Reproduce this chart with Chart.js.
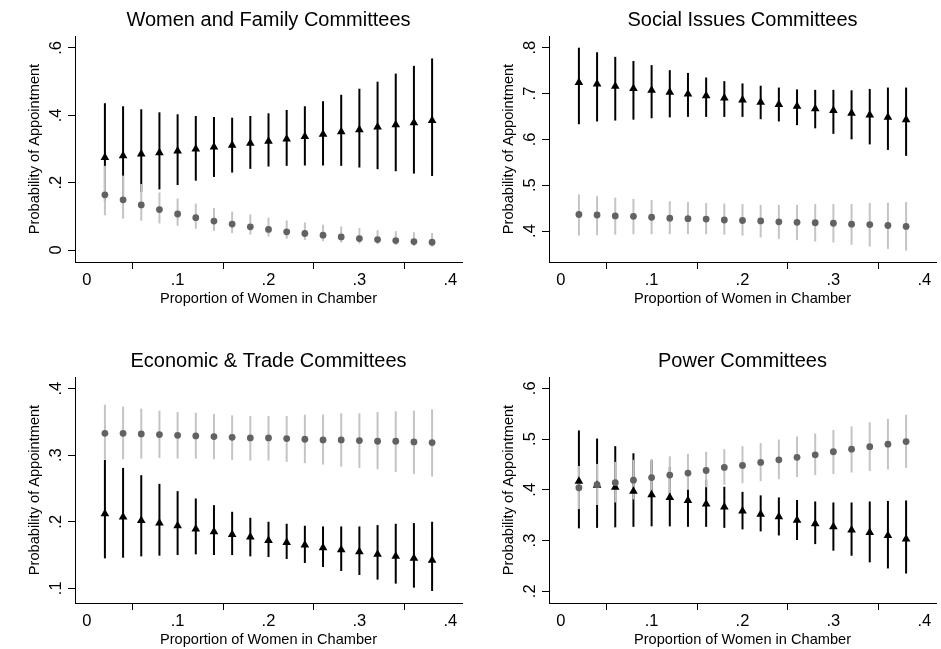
<!DOCTYPE html>
<html>
<head>
<meta charset="utf-8">
<title>Probability of committee appointment</title>
<script src="https://cdn.jsdelivr.net/npm/chart.js@4.4.1/dist/chart.umd.min.js"></script>
<style>
  html, body { margin: 0; padding: 0; background: #fff; overflow: hidden; }
  body { width: 941px; height: 649px; position: relative; }
  canvas { position: absolute; }
</style>
</head>
<body>
<canvas id="womenFamily" width="467" height="341" style="left:0;top:0"></canvas>
<canvas id="socialIssues" width="467" height="341" style="left:474px;top:0"></canvas>
<canvas id="economicTrade" width="467" height="341" style="left:0;top:341px"></canvas>
<canvas id="power" width="467" height="341" style="left:474px;top:341px"></canvas>
<script>
// proportion of women in the chamber (x) shared by all four panels
const proportion = [0.02, 0.04, 0.06, 0.08, 0.10, 0.12, 0.14, 0.16, 0.18, 0.20,
  0.22, 0.24, 0.26, 0.28, 0.30, 0.32, 0.34, 0.36, 0.38];
const xTickValues = [0, 0.1, 0.2, 0.3, 0.4];
const xTickLabels = ['0', '.1', '.2', '.3', '.4'];

// Women and Family Committees
const womenFamTri = [.275, .280, .285, .289, .294, .300, .306, .311, .317, .323, .330, .337, .344, .351, .357, .365, .372, .378, .385];
const womenFamTriLo = [.145, .160, .172, .180, .193, .206, .217, .230, .241, .248, .250, .251, .251, .250, .245, .240, .234, .227, .220];
const womenFamTriHi = [.436, .427, .418, .409, .403, .398, .395, .393, .398, .406, .416, .427, .442, .461, .479, .500, .524, .547, .569];
const womenFamCirc = [.164, .149, .134, .120, .107, .096, .086, .077, .069, .061, .054, .049, .044, .039, .034, .031, .028, .025, .023];
const womenFamCircLo = [.103, .093, .087, .079, .072, .063, .057, .050, .046, .040, .034, .030, .026, .022, .019, .017, .015, .012, .010];
const womenFamCircHi = [.250, .221, .196, .171, .153, .138, .125, .114, .106, .096, .088, .082, .075, .070, .065, .059, .056, .053, .051];
const womenFamYTicks = [0, 0.2, 0.4, 0.6];
const womenFamYLabels = ['0', '.2', '.4', '.6'];

// Social Issues Committees
const socialTri = [.724, .721, .716, .711, .707, .703, .699, .695, .690, .686, .681, .676, .672, .667, .663, .657, .653, .648, .643];
const socialTriLo = [.633, .639, .641, .643, .646, .648, .649, .649, .649, .649, .644, .639, .631, .624, .612, .600, .589, .577, .564];
const socialTriHi = [.800, .790, .780, .771, .762, .751, .745, .735, .727, .722, .717, .713, .709, .708, .708, .707, .710, .713, .713];
const socialCirc = [.436, .435, .433, .432, .430, .428, .427, .426, .424, .423, .422, .420, .419, .418, .417, .415, .414, .412, .410];
const socialCircLo = [.390, .391, .392, .393, .393, .393, .393, .393, .392, .390, .386, .383, .380, .377, .375, .370, .366, .361, .357];
const socialCircHi = [.480, .476, .473, .470, .468, .465, .463, .461, .460, .459, .457, .457, .457, .459, .459, .459, .461, .462, .463];
const socialYTicks = [0.4, 0.5, 0.6, 0.7, 0.8];
const socialYLabels = ['.4', '.5', '.6', '.7', '.8'];

// Economic & Trade Committees
const econTri = [.212, .207, .202, .198, .194, .189, .185, .181, .177, .172, .169, .165, .161, .158, .155, .151, .148, .145, .142];
const econTriLo = [.145, .146, .148, .149, .150, .151, .150, .150, .148, .147, .144, .138, .132, .126, .120, .113, .107, .101, .096];
const econTriHi = [.293, .281, .270, .257, .246, .235, .225, .215, .206, .200, .197, .194, .193, .193, .193, .195, .197, .198, .200];
const econCirc = [.333, .333, .332, .331, .330, .329, .328, .327, .326, .326, .325, .324, .323, .323, .322, .321, .321, .320, .319];
const econCircLo = [.294, .294, .295, .296, .295, .295, .294, .293, .292, .292, .290, .288, .286, .283, .281, .279, .275, .272, .268];
const econCircHi = [.376, .373, .370, .367, .365, .364, .362, .360, .359, .359, .359, .361, .361, .363, .363, .365, .366, .367, .369];
const econYTicks = [0.1, 0.2, 0.3, 0.4];
const econYLabels = ['.1', '.2', '.3', '.4'];

// Power Committees
const powerTri = [.417, .409, .405, .397, .390, .385, .379, .372, .366, .358, .352, .347, .340, .333, .327, .321, .316, .310, .303];
const powerTriLo = [.324, .325, .326, .327, .328, .328, .327, .327, .325, .322, .318, .310, .301, .293, .280, .270, .257, .245, .235];
const powerTriHi = [.517, .501, .486, .472, .458, .445, .432, .420, .406, .396, .389, .385, .380, .377, .375, .375, .377, .378, .379];
const powerCirc = [.404, .410, .414, .419, .424, .429, .433, .438, .444, .448, .454, .459, .464, .469, .475, .480, .485, .490, .495];
const powerCircLo = [.362, .370, .375, .381, .388, .393, .400, .405, .410, .413, .417, .421, .425, .429, .431, .434, .437, .440, .443];
const powerCircHi = [.447, .451, .455, .459, .461, .466, .471, .475, .480, .486, .492, .499, .505, .511, .518, .525, .533, .540, .548];
const powerYTicks = [0.2, 0.3, 0.4, 0.5, 0.6];
const powerYLabels = ['.2', '.3', '.4', '.5', '.6'];

Chart.defaults.font.family = "'Liberation Sans', Arial, Helvetica, sans-serif";
Chart.defaults.color = '#000';

const circleGrey = '#626262';
const barGrey = '#c4c4c4';

const axisGrid = { display: true, drawOnChartArea: false, drawTicks: true, tickLength: 7, color: '#000', lineWidth: 1 };
const axisBorder = { display: true, color: '#000', width: 1 };

function makePanel(id, title, yRange, yTicks, yLabels, tri, triLo, triHi, circ, circLo, circHi) {
  const points = (vals) => proportion.map((x, i) => ({ x, y: vals[i] }));
  const ranges = (lo, hi) => proportion.map((x, i) => ({ x, y: [lo[i], hi[i]] }));

  return new Chart(document.getElementById(id), {
    type: 'scatter',
    data: {
      datasets: [
        {
          type: 'scatter',
          data: points(circ),
          pointStyle: 'circle',
          pointRadius: 3.4,
          backgroundColor: circleGrey,
          borderWidth: 0,
          order: 0,
        },
        {
          type: 'scatter',
          data: points(tri),
          pointStyle: 'triangle',
          pointRadius: 5,
          backgroundColor: '#000',
          borderWidth: 0,
          order: 1,
        },
        {
          type: 'bar',
          data: ranges(circLo, circHi),
          backgroundColor: barGrey,
          borderWidth: 0,
          grouped: false,
          maxBarThickness: 2,
          order: 2,
        },
        {
          type: 'bar',
          data: ranges(triLo, triHi),
          backgroundColor: '#000',
          borderWidth: 0,
          grouped: false,
          maxBarThickness: 2,
          order: 3,
        },
      ],
    },
    options: {
      responsive: false,
      animation: false,
      layout: { padding: { left: 0, right: 5, top: 0, bottom: 0 } },
      plugins: {
        legend: { display: false },
        tooltip: { enabled: false },
        title: {
          display: true,
          text: title,
          fullSize: false,
          font: { size: 20, weight: 'normal' },
          color: '#000',
          padding: { top: 8, bottom: 4 },
        },
      },
      scales: {
        x: {
          type: 'linear',
          min: -0.0129,
          max: 0.4129,
          offset: false,
          afterBuildTicks: (s) => { s.ticks = xTickValues.map((v) => ({ value: v })); },
          afterFit: (s) => { s.height = 79; },
          grid: axisGrid,
          border: axisBorder,
          ticks: {
            callback: (v) => xTickLabels[xTickValues.indexOf(v)],
            font: { size: 16.5 },
            color: '#000',
            padding: 2,
            maxRotation: 0,
            autoSkip: false,
          },
          title: {
            display: true,
            text: 'Proportion of Women in Chamber',
            font: { size: 14.6 },
            color: '#000',
            padding: { top: 0, bottom: 33.2 },
          },
        },
        y: {
          type: 'linear',
          min: yRange[0],
          max: yRange[1],
          afterBuildTicks: (s) => { s.ticks = yTicks.map((v) => ({ value: v })); },
          afterFit: (s) => { s.width = 75; },
          grid: axisGrid,
          border: axisBorder,
          ticks: {
            callback: (v) => yLabels[yTicks.indexOf(v)],
            font: { size: 16.5 },
            color: '#000',
            minRotation: 90,
            maxRotation: 90,
            crossAlign: 'center',
            padding: 5,
            autoSkip: false,
          },
          title: {
            display: true,
            text: 'Probability of Appointment',
            font: { size: 14.6 },
            color: '#000',
            padding: { top: 26.2, bottom: 0 },
          },
        },
      },
    },
  });
}

makePanel('womenFamily', 'Women and Family Committees', [-0.0356, 0.6356],
  womenFamYTicks, womenFamYLabels,
  womenFamTri, womenFamTriLo, womenFamTriHi, womenFamCirc, womenFamCircLo, womenFamCircHi);

makePanel('socialIssues', 'Social Issues Committees', [0.3324, 0.8255],
  socialYTicks, socialYLabels,
  socialTri, socialTriLo, socialTriHi, socialCirc, socialCircLo, socialCircHi);

makePanel('economicTrade', 'Economic & Trade Committees', [0.0779, 0.4176],
  econYTicks, econYLabels,
  econTri, econTriLo, econTriHi, econCirc, econCircLo, econCircHi);

makePanel('power', 'Power Committees', [0.1769, 0.6223],
  powerYTicks, powerYLabels,
  powerTri, powerTriLo, powerTriHi, powerCirc, powerCircLo, powerCircHi);
</script>
</body>
</html>
